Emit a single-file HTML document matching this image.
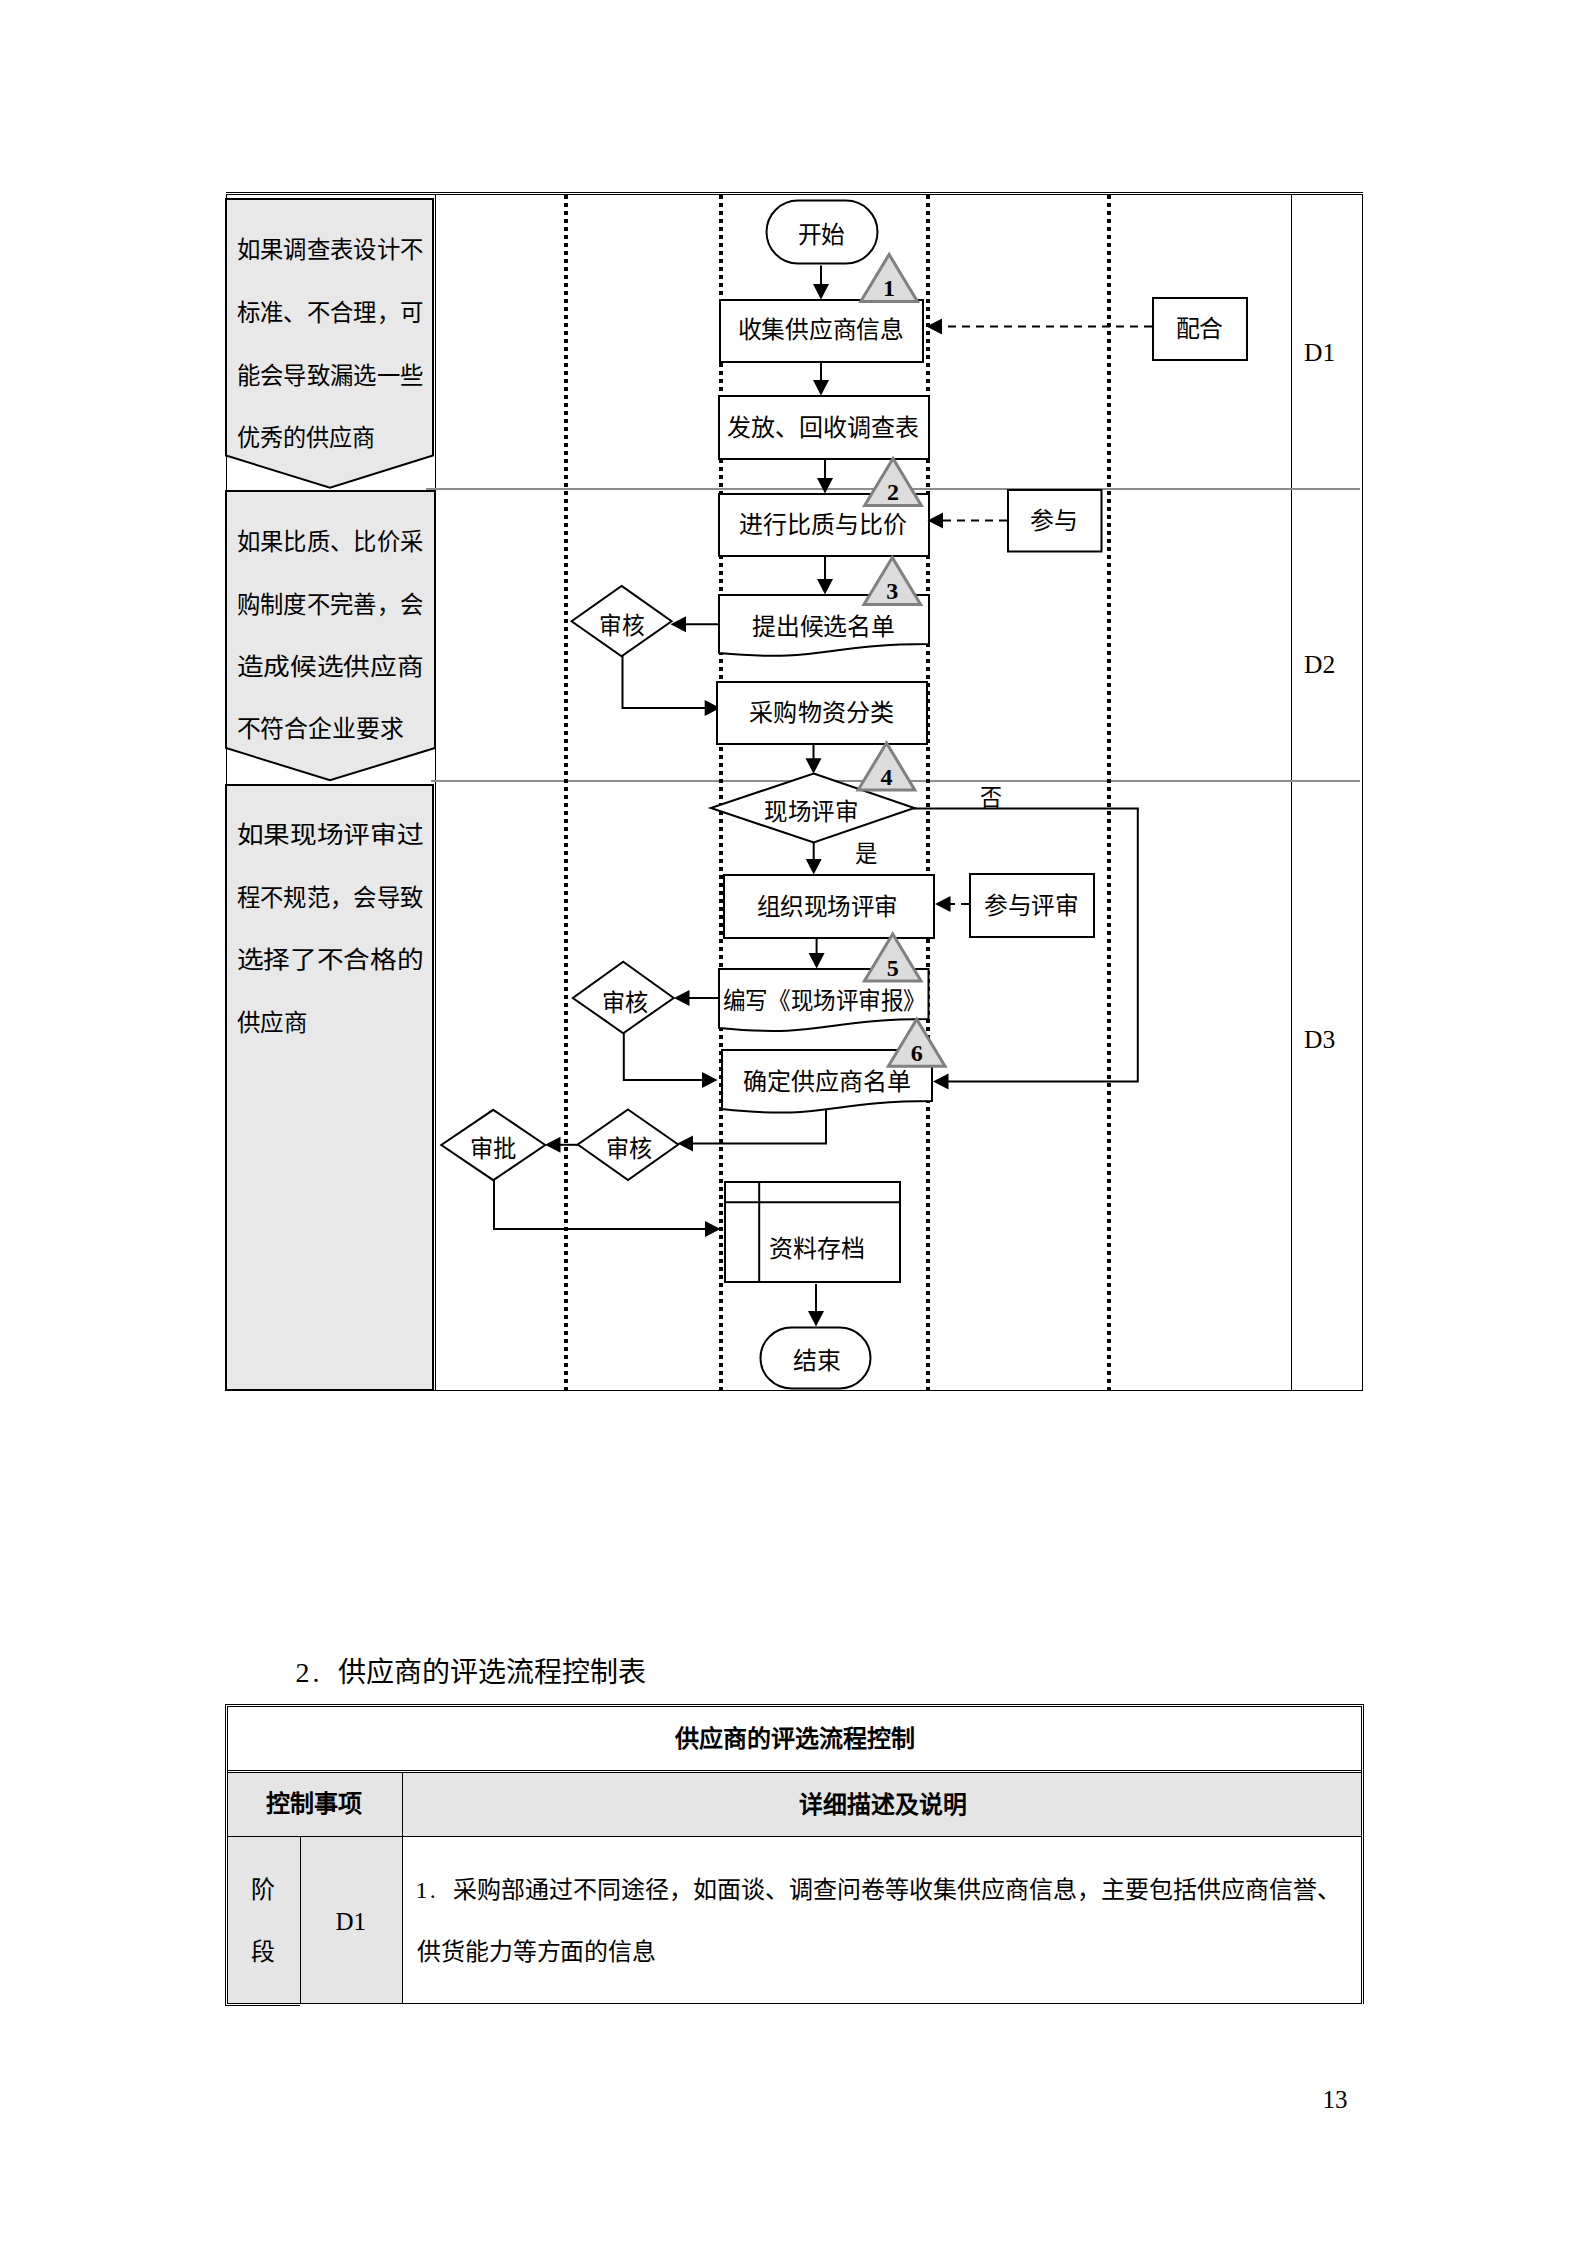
<!DOCTYPE html>
<html lang="zh-CN"><head><meta charset="utf-8"><title>page 13</title>
<style>
html,body{margin:0;padding:0;background:#fff;}
body{width:1587px;height:2245px;overflow:hidden;position:relative;font-family:"Liberation Serif";}
svg{position:absolute;left:0;top:0;}
</style></head>
<body>
<svg width="1587" height="2245" viewBox="0 0 1587 2245" shape-rendering="auto">
<path d="M226,199 L433,199 L433,455.5 L330,487.8 L226,455.5 Z" fill="#e8e8e8" stroke="#000" stroke-width="2"/>
<path d="M226,491 L435,491 L435,748 L330,780.3 L226,748 Z" fill="#e8e8e8" stroke="#000" stroke-width="2"/>
<path d="M226,785 L433,785 L433,1390 L226,1390 Z" fill="#e8e8e8" stroke="#000" stroke-width="2"/>
<line x1="226" y1="192.5" x2="1363" y2="192.5" stroke="#000" stroke-width="1" />
<line x1="226" y1="194.5" x2="1363" y2="194.5" stroke="#000" stroke-width="1" />
<line x1="226.5" y1="194" x2="226.5" y2="1391" stroke="#000" stroke-width="1" />
<line x1="435.5" y1="194" x2="435.5" y2="1391" stroke="#000" stroke-width="1" />
<line x1="1291.5" y1="194" x2="1291.5" y2="1391" stroke="#000" stroke-width="1" />
<line x1="1362.5" y1="194" x2="1362.5" y2="1391" stroke="#000" stroke-width="1" />
<line x1="226" y1="1390.5" x2="1363" y2="1390.5" stroke="#000" stroke-width="1" />
<line x1="426" y1="489" x2="1360" y2="489" stroke="#8c8c8c" stroke-width="2" />
<line x1="431" y1="781" x2="1360" y2="781" stroke="#8c8c8c" stroke-width="2" />
<line x1="566" y1="195" x2="566" y2="1391" stroke="#000" stroke-width="4" stroke-dasharray="4 4"/>
<line x1="721" y1="195" x2="721" y2="1391" stroke="#000" stroke-width="4" stroke-dasharray="4 4"/>
<line x1="928" y1="195" x2="928" y2="1391" stroke="#000" stroke-width="4" stroke-dasharray="4 4"/>
<line x1="1109" y1="195" x2="1109" y2="1391" stroke="#000" stroke-width="4" stroke-dasharray="4 4"/>
<text x="1304" y="360.5" text-anchor="start" font-family="Liberation Serif" font-size="25.5" font-weight="normal" fill="#000">D1</text>
<text x="1304" y="672.5" text-anchor="start" font-family="Liberation Serif" font-size="25.5" font-weight="normal" fill="#000">D2</text>
<text x="1304" y="1047.5" text-anchor="start" font-family="Liberation Serif" font-size="25.5" font-weight="normal" fill="#000">D3</text>
<text x="236.5" y="250.3" dominant-baseline="central" font-family="Liberation Serif" font-size="24" font-weight="normal" fill="#000" textLength="187.0" lengthAdjust="spacingAndGlyphs">如果调查表设计不</text>
<text x="236.5" y="312.9" dominant-baseline="central" font-family="Liberation Serif" font-size="24" font-weight="normal" fill="#000" textLength="187.0" lengthAdjust="spacingAndGlyphs">标准、不合理，可</text>
<text x="236.5" y="375.6" dominant-baseline="central" font-family="Liberation Serif" font-size="24" font-weight="normal" fill="#000" textLength="187.0" lengthAdjust="spacingAndGlyphs">能会导致漏选一些</text>
<text x="236.5" y="437.8" dominant-baseline="central" font-family="Liberation Serif" font-size="24" font-weight="normal" fill="#000" textLength="138.5" lengthAdjust="spacingAndGlyphs">优秀的供应商</text>
<text x="236.5" y="542.2" dominant-baseline="central" font-family="Liberation Serif" font-size="24" font-weight="normal" fill="#000" textLength="187.0" lengthAdjust="spacingAndGlyphs">如果比质、比价采</text>
<text x="236.5" y="604.6" dominant-baseline="central" font-family="Liberation Serif" font-size="24" font-weight="normal" fill="#000" textLength="187.0" lengthAdjust="spacingAndGlyphs">购制度不完善，会</text>
<text x="236.5" y="667.0" dominant-baseline="central" font-family="Liberation Serif" font-size="24" font-weight="normal" fill="#000" textLength="187.0" lengthAdjust="spacingAndGlyphs">造成候选供应商</text>
<text x="236.5" y="729.4" dominant-baseline="central" font-family="Liberation Serif" font-size="24" font-weight="normal" fill="#000" textLength="167.5" lengthAdjust="spacingAndGlyphs">不符合企业要求</text>
<text x="236.5" y="835.4" dominant-baseline="central" font-family="Liberation Serif" font-size="24" font-weight="normal" fill="#000" textLength="187.0" lengthAdjust="spacingAndGlyphs">如果现场评审过</text>
<text x="236.5" y="897.8" dominant-baseline="central" font-family="Liberation Serif" font-size="24" font-weight="normal" fill="#000" textLength="187.0" lengthAdjust="spacingAndGlyphs">程不规范，会导致</text>
<text x="236.5" y="960.2" dominant-baseline="central" font-family="Liberation Serif" font-size="24" font-weight="normal" fill="#000" textLength="187.0" lengthAdjust="spacingAndGlyphs">选择了不合格的</text>
<text x="236.5" y="1022.6" dominant-baseline="central" font-family="Liberation Serif" font-size="24" font-weight="normal" fill="#000" textLength="70.5" lengthAdjust="spacingAndGlyphs">供应商</text>
<rect x="766.5" y="200.5" width="111.0" height="63.0" rx="31.5" fill="#fff" stroke="#000" stroke-width="2"/>
<text x="797.5" y="234.5" dominant-baseline="central" font-family="Liberation Serif" font-size="24" font-weight="normal" fill="#000" textLength="47.5" lengthAdjust="spacingAndGlyphs">开始</text>
<polyline points="821,265.5 821,285.5" fill="none" stroke="#000" stroke-width="2" />
<polygon points="821,299.5 813,284.0 829,284.0" fill="#000"/>
<rect x="720.0" y="300.0" width="203" height="62" rx="0" fill="#fff" stroke="#000" stroke-width="2"/>
<text x="737.6" y="330.0" dominant-baseline="central" font-family="Liberation Serif" font-size="24" font-weight="normal" fill="#000" textLength="166.4" lengthAdjust="spacingAndGlyphs">收集供应商信息</text>
<polyline points="821,363 821,381.5" fill="none" stroke="#000" stroke-width="2" />
<polygon points="821,395.5 813,380.0 829,380.0" fill="#000"/>
<rect x="1153.0" y="298.0" width="94" height="62" rx="0" fill="#fff" stroke="#000" stroke-width="2"/>
<text x="1175.5" y="328.7" dominant-baseline="central" font-family="Liberation Serif" font-size="24" font-weight="normal" fill="#000" textLength="47.8" lengthAdjust="spacingAndGlyphs">配合</text>
<polyline points="1152,326.5 940.5,326.5" fill="none" stroke="#000" stroke-width="2" stroke-dasharray="8 6"/>
<polygon points="926.5,326.5 942.0,318.5 942.0,334.5" fill="#000"/>
<rect x="719.0" y="396.0" width="210" height="63" rx="0" fill="#fff" stroke="#000" stroke-width="2"/>
<text x="727.0" y="427.7" dominant-baseline="central" font-family="Liberation Serif" font-size="24" font-weight="normal" fill="#000" textLength="192.0" lengthAdjust="spacingAndGlyphs">发放、回收调查表</text>
<polyline points="825,460 825,479.5" fill="none" stroke="#000" stroke-width="2" />
<polygon points="825,493.5 817,478.0 833,478.0" fill="#000"/>
<rect x="719.0" y="494.0" width="210" height="62" rx="0" fill="#fff" stroke="#000" stroke-width="2"/>
<text x="739.0" y="525.0" dominant-baseline="central" font-family="Liberation Serif" font-size="24" font-weight="normal" fill="#000" textLength="167.6" lengthAdjust="spacingAndGlyphs">进行比质与比价</text>
<rect x="1008.0" y="490.0" width="93.5" height="61.5" rx="0" fill="#fff" stroke="#000" stroke-width="2"/>
<text x="1029.7" y="520.8" dominant-baseline="central" font-family="Liberation Serif" font-size="24" font-weight="normal" fill="#000" textLength="47.8" lengthAdjust="spacingAndGlyphs">参与</text>
<polyline points="1007,520.5 941.5,520.5" fill="none" stroke="#000" stroke-width="2" stroke-dasharray="8 6"/>
<polygon points="927.5,520.5 943.0,512.5 943.0,528.5" fill="#000"/>
<polyline points="825,557 825,580.5" fill="none" stroke="#000" stroke-width="2" />
<polygon points="825,594.5 817,579.0 833,579.0" fill="#000"/>
<path d="M719,595 L929,595 L929,644 C824.0,644 824.0,662.6652119700748 719,653 Z" fill="#fff" stroke="#000" stroke-width="2"/>
<text x="751.9" y="627.0" dominant-baseline="central" font-family="Liberation Serif" font-size="24" font-weight="normal" fill="#000" textLength="143.1" lengthAdjust="spacingAndGlyphs">提出候选名单</text>
<polygon points="621.575,585.9 671.6,621.3 621.575,656.3000000000001 571.55,621.3" fill="#fff" stroke="#000" stroke-width="2" />
<text x="599.0" y="625.7" dominant-baseline="central" font-family="Liberation Serif" font-size="24" font-weight="normal" fill="#000" textLength="45.3" lengthAdjust="spacingAndGlyphs">审核</text>
<polyline points="719,624.2 684.5,624.2" fill="none" stroke="#000" stroke-width="2" />
<polygon points="670.5,624.2 686.0,616.2 686.0,632.2" fill="#000"/>
<polyline points="622.5,656 622.5,708 706.2,708" fill="none" stroke="#000" stroke-width="2" />
<polygon points="720.2,708 704.7,700 704.7,716" fill="#000"/>
<rect x="717.0" y="682.0" width="210" height="62" rx="0" fill="#fff" stroke="#000" stroke-width="2"/>
<text x="749.4" y="712.6" dominant-baseline="central" font-family="Liberation Serif" font-size="24" font-weight="normal" fill="#000" textLength="144.4" lengthAdjust="spacingAndGlyphs">采购物资分类</text>
<polyline points="813.5,745 813.5,759.8" fill="none" stroke="#000" stroke-width="2" />
<polygon points="813.5,773.8 805.5,758.3 821.5,758.3" fill="#000"/>
<polygon points="813.7,773.5 914.3,808 813.7,842.5 710.8,808" fill="#fff" stroke="#000" stroke-width="2" />
<text x="764.4" y="811.5" dominant-baseline="central" font-family="Liberation Serif" font-size="24" font-weight="normal" fill="#000" textLength="94.1" lengthAdjust="spacingAndGlyphs">现场评审</text>
<text x="980.0" y="797.8" dominant-baseline="central" font-family="Liberation Serif" font-size="24" font-weight="normal" fill="#000" textLength="22.0" lengthAdjust="spacingAndGlyphs">否</text>
<polyline points="913,808.5 1137.8,808.5 1137.8,1081.5 947,1081.5" fill="none" stroke="#000" stroke-width="2"/>
<polygon points="933,1081.5 948.5,1073.5 948.5,1089.5" fill="#000"/>
<polyline points="813.7,842 813.7,860.5" fill="none" stroke="#000" stroke-width="2" />
<polygon points="813.7,874.5 805.7,859.0 821.7,859.0" fill="#000"/>
<text x="855.0" y="853.7" dominant-baseline="central" font-family="Liberation Serif" font-size="24" font-weight="normal" fill="#000" textLength="22.4" lengthAdjust="spacingAndGlyphs">是</text>
<rect x="724.0" y="875.0" width="210" height="63" rx="0" fill="#fff" stroke="#000" stroke-width="2"/>
<text x="756.5" y="906.5" dominant-baseline="central" font-family="Liberation Serif" font-size="24" font-weight="normal" fill="#000" textLength="141.5" lengthAdjust="spacingAndGlyphs">组织现场评审</text>
<rect x="970.0" y="874.0" width="124" height="63" rx="0" fill="#fff" stroke="#000" stroke-width="2"/>
<text x="984.0" y="905.5" dominant-baseline="central" font-family="Liberation Serif" font-size="24" font-weight="normal" fill="#000" textLength="94.7" lengthAdjust="spacingAndGlyphs">参与评审</text>
<polyline points="969,904 949,904" fill="none" stroke="#000" stroke-width="2" stroke-dasharray="8 6"/>
<polygon points="935,904 950.5,896 950.5,912" fill="#000"/>
<polyline points="816.6,939 816.6,954.5" fill="none" stroke="#000" stroke-width="2" />
<polygon points="816.6,968.5 808.6,953.0 824.6,953.0" fill="#000"/>
<path d="M719,969 L928.5,969 L928.5,1019 C823.75,1019 823.75,1038.0461346633417 719,1028 Z" fill="#fff" stroke="#000" stroke-width="2"/>
<text x="722.8" y="1000.6" dominant-baseline="central" font-family="Liberation Serif" font-size="24" font-weight="normal" fill="#000" textLength="203.2" lengthAdjust="spacingAndGlyphs">编写《现场评审报》</text>
<polygon points="623.25,961.8 673.7,998 623.25,1033.2 572.8,998" fill="#fff" stroke="#000" stroke-width="2" />
<text x="601.8" y="1002.5" dominant-baseline="central" font-family="Liberation Serif" font-size="24" font-weight="normal" fill="#000" textLength="46.2" lengthAdjust="spacingAndGlyphs">审核</text>
<polyline points="718.8,998 688,998" fill="none" stroke="#000" stroke-width="2" />
<polygon points="674,998 689.5,990 689.5,1006" fill="#000"/>
<polyline points="623.8,1032.5 623.8,1080.1 703.5,1080.1" fill="none" stroke="#000" stroke-width="2" />
<polygon points="717.5,1080.1 702.0,1072.1 702.0,1088.1" fill="#000"/>
<path d="M722,1050 L932,1050 L932,1101 C827.0,1101 827.0,1120.4270573566084 722,1109 Z" fill="#fff" stroke="#000" stroke-width="2"/>
<text x="743.0" y="1082.0" dominant-baseline="central" font-family="Liberation Serif" font-size="24" font-weight="normal" fill="#000" textLength="168.3" lengthAdjust="spacingAndGlyphs">确定供应商名单</text>
<polygon points="628.0,1109.5 678.2,1144.5 628.0,1180.0 577.8,1144.5" fill="#fff" stroke="#000" stroke-width="2" />
<text x="605.6" y="1149.3" dominant-baseline="central" font-family="Liberation Serif" font-size="24" font-weight="normal" fill="#000" textLength="46.1" lengthAdjust="spacingAndGlyphs">审核</text>
<polyline points="826,1109 826,1143.5 691.5,1143.5" fill="none" stroke="#000" stroke-width="2" />
<polygon points="677.5,1143.5 693.0,1135.5 693.0,1151.5" fill="#000"/>
<polygon points="493.25,1109.8 545.2,1145 493.25,1180.2 441.3,1145" fill="#fff" stroke="#000" stroke-width="2" />
<text x="470.0" y="1149.4" dominant-baseline="central" font-family="Liberation Serif" font-size="24" font-weight="normal" fill="#000" textLength="46.7" lengthAdjust="spacingAndGlyphs">审批</text>
<polyline points="578.5,1144.8 559,1144.8" fill="none" stroke="#000" stroke-width="2" />
<polygon points="545,1144.8 560.5,1136.8 560.5,1152.8" fill="#000"/>
<polyline points="494,1180 494,1229 706.5,1229" fill="none" stroke="#000" stroke-width="2" />
<polygon points="720.5,1229 705.0,1221 705.0,1237" fill="#000"/>
<rect x="725.0" y="1182.0" width="175" height="100" rx="0" fill="#fff" stroke="#000" stroke-width="2"/>
<line x1="759.2" y1="1183" x2="759.2" y2="1282" stroke="#000" stroke-width="2" />
<line x1="725.5" y1="1202.2" x2="899" y2="1202.2" stroke="#000" stroke-width="2" />
<text x="769.0" y="1249.0" dominant-baseline="central" font-family="Liberation Serif" font-size="24" font-weight="normal" fill="#000" textLength="96.0" lengthAdjust="spacingAndGlyphs">资料存档</text>
<polyline points="816,1284 816,1312.5" fill="none" stroke="#000" stroke-width="2" />
<polygon points="816,1326.5 808,1311.0 824,1311.0" fill="#000"/>
<rect x="760.5" y="1327.5" width="110.0" height="61.0" rx="31" fill="#fff" stroke="#000" stroke-width="2"/>
<text x="792.9" y="1360.5" dominant-baseline="central" font-family="Liberation Serif" font-size="24" font-weight="normal" fill="#000" textLength="47.7" lengthAdjust="spacingAndGlyphs">结束</text>
<polygon points="889.1,254.41 860.75,301.5 917.45,301.5" fill="#dcdcdc" stroke="#808080" stroke-width="3" stroke-linejoin="miter"/>
<text x="889.1" y="296.2" text-anchor="middle" font-family="Liberation Serif" font-size="24" font-weight="bold" fill="#000">1</text>
<polygon points="893.0,458.41 864.65,505.5 921.35,505.5" fill="#dcdcdc" stroke="#808080" stroke-width="3" stroke-linejoin="miter"/>
<text x="893" y="500.2" text-anchor="middle" font-family="Liberation Serif" font-size="24" font-weight="bold" fill="#000">2</text>
<polygon points="892.3,557.51 863.95,604.6 920.65,604.6" fill="#dcdcdc" stroke="#808080" stroke-width="3" stroke-linejoin="miter"/>
<text x="892.3" y="599.3" text-anchor="middle" font-family="Liberation Serif" font-size="24" font-weight="bold" fill="#000">3</text>
<polygon points="886.5,742.91 858.15,790.0 914.85,790.0" fill="#dcdcdc" stroke="#808080" stroke-width="3" stroke-linejoin="miter"/>
<text x="886.5" y="784.7" text-anchor="middle" font-family="Liberation Serif" font-size="24" font-weight="bold" fill="#000">4</text>
<polygon points="892.7,933.91 864.35,981.0 921.05,981.0" fill="#dcdcdc" stroke="#808080" stroke-width="3" stroke-linejoin="miter"/>
<text x="892.7" y="975.7" text-anchor="middle" font-family="Liberation Serif" font-size="24" font-weight="bold" fill="#000">5</text>
<polygon points="916.7,1019.21 888.35,1066.3 945.05,1066.3" fill="#dcdcdc" stroke="#808080" stroke-width="3" stroke-linejoin="miter"/>
<text x="916.7" y="1061.0" text-anchor="middle" font-family="Liberation Serif" font-size="24" font-weight="bold" fill="#000">6</text>
<text x="295.5" y="1682.2" text-anchor="start" font-family="Liberation Serif" font-size="28" font-weight="normal" fill="#000">2</text>
<text x="312.6" y="1682.2" text-anchor="start" font-family="Liberation Serif" font-size="28" font-weight="normal" fill="#000">.</text>
<text x="338.2" y="1672.0" dominant-baseline="central" font-family="Liberation Serif" font-size="28" font-weight="normal" fill="#000" textLength="308.0" lengthAdjust="spacingAndGlyphs">供应商的评选流程控制表</text>
<rect x="228" y="1773" width="1133" height="63" fill="#e5e5e5"/>
<rect x="228" y="1837" width="174" height="166" fill="#e5e5e5"/>
<line x1="225" y1="1704.5" x2="1364" y2="1704.5" stroke="#000" stroke-width="1" />
<line x1="225.5" y1="1704" x2="225.5" y2="2006" stroke="#000" stroke-width="1" />
<line x1="1363.5" y1="1704" x2="1363.5" y2="2004" stroke="#000" stroke-width="1" />
<line x1="225" y1="2005.5" x2="300" y2="2005.5" stroke="#000" stroke-width="1" />
<line x1="227" y1="1706.5" x2="1362" y2="1706.5" stroke="#000" stroke-width="1" />
<line x1="227.5" y1="1706" x2="227.5" y2="2004" stroke="#000" stroke-width="1" />
<line x1="1361.5" y1="1706" x2="1361.5" y2="2004" stroke="#000" stroke-width="1" />
<line x1="227" y1="1770.5" x2="1362" y2="1770.5" stroke="#000" stroke-width="1" />
<line x1="227" y1="1772.5" x2="1362" y2="1772.5" stroke="#000" stroke-width="1" />
<line x1="227" y1="1836.5" x2="1362" y2="1836.5" stroke="#000" stroke-width="1" />
<line x1="402.5" y1="1772" x2="402.5" y2="2004" stroke="#000" stroke-width="1" />
<line x1="300.5" y1="1836" x2="300.5" y2="2004" stroke="#000" stroke-width="1" />
<line x1="227" y1="2003.5" x2="1362" y2="2003.5" stroke="#000" stroke-width="1" />
<text x="674.6" y="1738.5" dominant-baseline="central" font-family="Liberation Serif" font-size="24" font-weight="bold" fill="#000" textLength="240.2" lengthAdjust="spacingAndGlyphs">供应商的评选流程控制</text>
<text x="266.2" y="1804.3" dominant-baseline="central" font-family="Liberation Serif" font-size="24" font-weight="bold" fill="#000" textLength="96.0" lengthAdjust="spacingAndGlyphs">控制事项</text>
<text x="799.4" y="1804.7" dominant-baseline="central" font-family="Liberation Serif" font-size="24" font-weight="bold" fill="#000" textLength="167.1" lengthAdjust="spacingAndGlyphs">详细描述及说明</text>
<text x="251.3" y="1890.4" dominant-baseline="central" font-family="Liberation Serif" font-size="24" font-weight="normal" fill="#000" textLength="23.9" lengthAdjust="spacingAndGlyphs">阶</text>
<text x="251.3" y="1951.5" dominant-baseline="central" font-family="Liberation Serif" font-size="24" font-weight="normal" fill="#000" textLength="23.9" lengthAdjust="spacingAndGlyphs">段</text>
<text x="335.5" y="1930" text-anchor="start" font-family="Liberation Serif" font-size="25" font-weight="normal" fill="#000">D1</text>
<text x="415.5" y="1897.6" text-anchor="start" font-family="Liberation Serif" font-size="24" font-weight="normal" fill="#000">1</text>
<text x="429.8" y="1897.6" text-anchor="start" font-family="Liberation Serif" font-size="24" font-weight="normal" fill="#000">.</text>
<text x="453.0" y="1889.8" dominant-baseline="central" font-family="Liberation Serif" font-size="24" font-weight="normal" fill="#000" textLength="888.0" lengthAdjust="spacingAndGlyphs">采购部通过不同途径，如面谈、调查问卷等收集供应商信息，主要包括供应商信誉、</text>
<text x="417.0" y="1951.6" dominant-baseline="central" font-family="Liberation Serif" font-size="24" font-weight="normal" fill="#000" textLength="239.0" lengthAdjust="spacingAndGlyphs">供货能力等方面的信息</text>
<text x="1322.5" y="2107.5" text-anchor="start" font-family="Liberation Serif" font-size="25" font-weight="normal" fill="#000">13</text>
</svg>
</body></html>
